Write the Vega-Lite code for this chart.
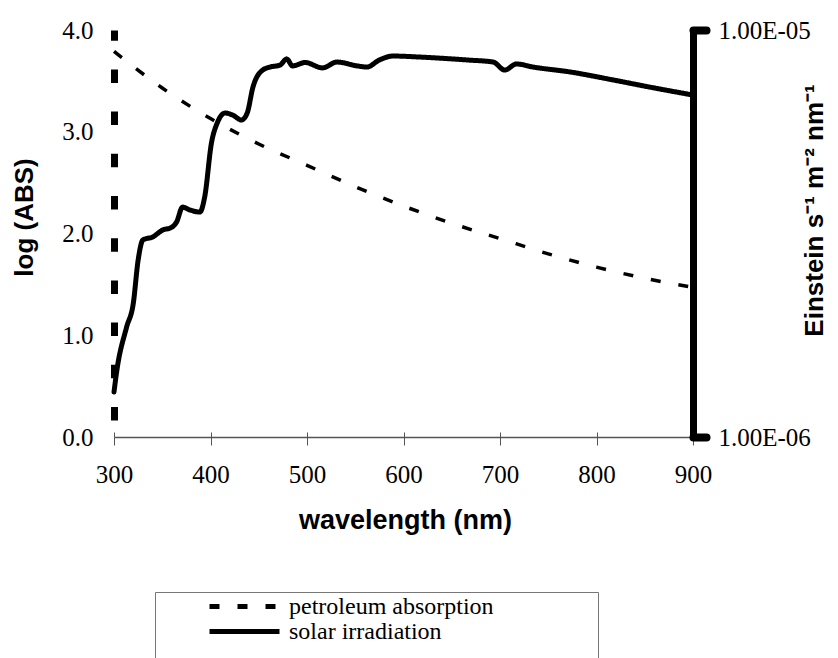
{
  "$schema": "https://vega.github.io/schema/vega-lite/v6.json",
  "width": 579,
  "height": 407,
  "autosize": "none",
  "padding": {"left": 114, "top": 30, "right": 145, "bottom": 221},
  "background": "white",
  "config": {"view": {"stroke": null}, "font": "Liberation Serif"},
  "data": {
    "values": [
      {"series": "petroleum absorption", "wavelength": 300, "value": 3.79},
      {"series": "petroleum absorption", "wavelength": 350, "value": 3.43},
      {"series": "petroleum absorption", "wavelength": 400, "value": 3.13},
      {"series": "petroleum absorption", "wavelength": 450, "value": 2.88},
      {"series": "petroleum absorption", "wavelength": 500, "value": 2.67},
      {"series": "petroleum absorption", "wavelength": 550, "value": 2.46},
      {"series": "petroleum absorption", "wavelength": 600, "value": 2.27},
      {"series": "petroleum absorption", "wavelength": 650, "value": 2.1},
      {"series": "petroleum absorption", "wavelength": 700, "value": 1.95},
      {"series": "petroleum absorption", "wavelength": 750, "value": 1.8},
      {"series": "petroleum absorption", "wavelength": 800, "value": 1.67},
      {"series": "petroleum absorption", "wavelength": 850, "value": 1.56},
      {"series": "petroleum absorption", "wavelength": 900, "value": 1.47},
      {"series": "solar irradiation", "wavelength": 300, "value": 1.29e-6},
      {"series": "solar irradiation", "wavelength": 303, "value": 1.46e-6},
      {"series": "solar irradiation", "wavelength": 313, "value": 1.86e-6},
      {"series": "solar irradiation", "wavelength": 320, "value": 2.13e-6},
      {"series": "solar irradiation", "wavelength": 325, "value": 2.72e-6},
      {"series": "solar irradiation", "wavelength": 330, "value": 3.05e-6},
      {"series": "solar irradiation", "wavelength": 340, "value": 3.1e-6},
      {"series": "solar irradiation", "wavelength": 351, "value": 3.23e-6},
      {"series": "solar irradiation", "wavelength": 358, "value": 3.26e-6},
      {"series": "solar irradiation", "wavelength": 365, "value": 3.38e-6},
      {"series": "solar irradiation", "wavelength": 371, "value": 3.67e-6},
      {"series": "solar irradiation", "wavelength": 379, "value": 3.61e-6},
      {"series": "solar irradiation", "wavelength": 389, "value": 3.57e-6},
      {"series": "solar irradiation", "wavelength": 394, "value": 3.89e-6},
      {"series": "solar irradiation", "wavelength": 401, "value": 5.28e-6},
      {"series": "solar irradiation", "wavelength": 407, "value": 5.91e-6},
      {"series": "solar irradiation", "wavelength": 415, "value": 6.25e-6},
      {"series": "solar irradiation", "wavelength": 423, "value": 6.18e-6},
      {"series": "solar irradiation", "wavelength": 432, "value": 6.01e-6},
      {"series": "solar irradiation", "wavelength": 438, "value": 6.25e-6},
      {"series": "solar irradiation", "wavelength": 444, "value": 7.24e-6},
      {"series": "solar irradiation", "wavelength": 454, "value": 7.97e-6},
      {"series": "solar irradiation", "wavelength": 462, "value": 8.11e-6},
      {"series": "solar irradiation", "wavelength": 472, "value": 8.2e-6},
      {"series": "solar irradiation", "wavelength": 479, "value": 8.49e-6},
      {"series": "solar irradiation", "wavelength": 485, "value": 8.16e-6},
      {"series": "solar irradiation", "wavelength": 498, "value": 8.32e-6},
      {"series": "solar irradiation", "wavelength": 516, "value": 8.07e-6},
      {"series": "solar irradiation", "wavelength": 531, "value": 8.34e-6},
      {"series": "solar irradiation", "wavelength": 552, "value": 8.16e-6},
      {"series": "solar irradiation", "wavelength": 562, "value": 8.11e-6},
      {"series": "solar irradiation", "wavelength": 575, "value": 8.44e-6},
      {"series": "solar irradiation", "wavelength": 589, "value": 8.63e-6},
      {"series": "solar irradiation", "wavelength": 617, "value": 8.58e-6},
      {"series": "solar irradiation", "wavelength": 666, "value": 8.44e-6},
      {"series": "solar irradiation", "wavelength": 693, "value": 8.34e-6},
      {"series": "solar irradiation", "wavelength": 705, "value": 7.97e-6},
      {"series": "solar irradiation", "wavelength": 717, "value": 8.25e-6},
      {"series": "solar irradiation", "wavelength": 734, "value": 8.11e-6},
      {"series": "solar irradiation", "wavelength": 772, "value": 7.89e-6},
      {"series": "solar irradiation", "wavelength": 817, "value": 7.54e-6},
      {"series": "solar irradiation", "wavelength": 855, "value": 7.24e-6},
      {"series": "solar irradiation", "wavelength": 900, "value": 6.92e-6}
    ]
  },
  "layer": [
    {
      "transform": [{"filter": "datum.series === 'petroleum absorption'"}],
      "mark": {"type": "line", "color": "black", "strokeWidth": 3.5, "interpolate": "monotone"},
      "encoding": {
        "x": {
          "field": "wavelength",
          "type": "quantitative",
          "scale": {"domain": [300, 900], "nice": false, "zero": false},
          "axis": {
            "orient": "bottom",
            "values": [300, 400, 500, 600, 700, 800, 900],
            "labelFlush": false,
            "grid": false,
            "domainColor": "#555",
            "domainWidth": 1.5,
            "tickColor": "#555",
            "tickWidth": 1,
            "tickSize": 8,
            "labelFont": "Liberation Serif",
            "labelFontSize": 25,
            "labelColor": "black",
            "labelPadding": 17,
            "title": "wavelength (nm)",
            "titleFont": "Liberation Sans",
            "titleFontSize": 27,
            "titleFontWeight": "bold",
            "titleColor": "black",
            "titleX": 291,
            "titleY": 83,
            "titleBaseline": "middle",
            "titleAlign": "center"
          }
        },
        "y": {
          "field": "value",
          "type": "quantitative",
          "scale": {"domain": [0, 4], "nice": false, "zero": true},
          "axis": {
            "orient": "left",
            "values": [0, 1, 2, 3, 4],
            "format": ".1f",
            "ticks": false,
            "grid": false,
            "domainColor": "black",
            "domainWidth": 7,
            "domainDash": [13.5, 28.7],
            "domainDashOffset": 25.2,
            "labelFont": "Liberation Serif",
            "labelFontSize": 25,
            "labelColor": "black",
            "labelPadding": 21,
            "title": "log (ABS)",
            "titleFont": "Liberation Sans",
            "titleFontSize": 26,
            "titleFontWeight": "bold",
            "titleColor": "black",
            "titleAngle": -90,
            "titleX": -90,
            "titleY": 187,
            "titleBaseline": "middle",
            "titleAlign": "center"
          }
        },
        "strokeDash": {
          "field": "series",
          "type": "nominal",
          "scale": {"domain": ["petroleum absorption", "solar irradiation"], "range": [[10, 18], [1, 0]]},
          "legend": {
            "orient": "none",
            "legendX": 41,
            "legendY": 562,
            "title": " ",
            "titleOrient": "right",
            "titleFontSize": 80,
            "titlePadding": 102,
            "symbolType": "stroke",
            "symbolSize": 4900,
            "symbolStrokeWidth": 5,
            "symbolStrokeColor": "black",
            "symbolOffset": 50,
            "clipHeight": 25,
            "rowPadding": 0,
            "padding": 2,
            "labelFont": "Liberation Serif",
            "labelFontSize": 24,
            "labelColor": "black",
            "labelOffset": 7,
            "labelLimit": 500,
            "strokeColor": "#777",
            "fillColor": "white"
          }
        }
      }
    },
    {
      "transform": [{"filter": "datum.series === 'solar irradiation'"}],
      "mark": {"type": "line", "color": "black", "strokeWidth": 5, "interpolate": "monotone", "strokeJoin": "round", "strokeCap": "round"},
      "encoding": {
        "x": {
          "field": "wavelength",
          "type": "quantitative",
          "axis": {
            "orient": "bottom",
            "values": [300, 400, 500, 600, 700, 800, 900],
            "labels": false,
            "domain": false,
            "grid": false,
            "title": null,
            "tickColor": "#555",
            "tickWidth": 1,
            "tickSize": -5
          }
        },
        "y": {
          "field": "value",
          "type": "quantitative",
          "scale": {"type": "log", "domain": [1e-6, 1e-5], "nice": false},
          "axis": {
            "orient": "right",
            "values": [1e-6, 1e-5],
            "labelExpr": "replace(format(datum.value, '.2e'), 'e-', 'E-0')",
            "grid": false,
            "domainColor": "black",
            "domainWidth": 7,
            "domainCap": "round",
            "tickColor": "black",
            "tickWidth": 8,
            "tickSize": 13,
            "tickCap": "round",
            "labelFont": "Liberation Serif",
            "labelFontSize": 25,
            "labelColor": "black",
            "labelPadding": 12,
            "title": "Einstein s⁻¹ m⁻² nm⁻¹",
            "titleFont": "Liberation Sans",
            "titleFontSize": 26,
            "titleFontWeight": "bold",
            "titleColor": "black",
            "titleAngle": -90,
            "titleX": 121,
            "titleY": 180,
            "titleBaseline": "middle",
            "titleAlign": "center"
          }
        },
        "strokeDash": {
          "field": "series",
          "type": "nominal",
          "scale": {"domain": ["petroleum absorption", "solar irradiation"], "range": [[10, 18], [1, 0]]}
        }
      }
    }
  ],
  "resolve": {"scale": {"y": "independent"}, "axis": {"x": "independent"}}
}
